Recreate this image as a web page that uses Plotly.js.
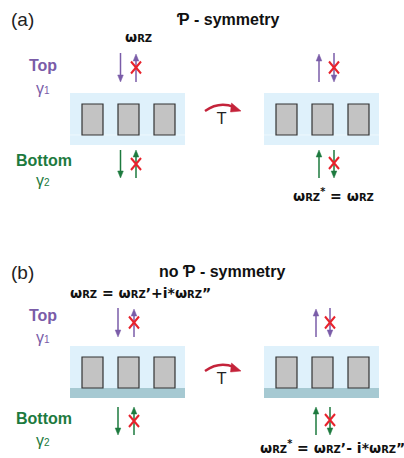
<!DOCTYPE html>
<html>
<head>
<meta charset="utf-8">
<script src="https://cdn.plot.ly/plotly-3.0.1.min.js"></script>
<style>html,body{margin:0;padding:0;background:#fff;}#chart{width:404px;height:458px;}</style>
</head>
<body>
<div id="chart"></div>
<script>
// ---- content ----
var panelLabels = ['(a)', '(b)'];
var panelTitles = ['\u01A4 - symmetry', 'no \u01A4 - symmetry'];
var sideLabels = ['Top', 'Bottom'];
var rateSymbol = '\u03B3';
var rateIndex = ['1', '2'];
var operatorLabel = 'T';
var W = '\u03C9<span style="font-size:10px">RZ</span>';
var eqBefore = [W, W + ' = ' + W + '\u2019+i*' + W + '\u201D'];
var eqAfter = [W + '<sup>*</sup> = ' + W, W + '<sup>*</sup> = ' + W + '\u2019- i*' + W + '\u201D'];
var hasSubstrate = [false, true];
var pillarsPerCell = [1, 2, 3];

// ---- styles ----
var PURPLE = '#7a5ca8', GREEN = '#1d7a3e', RED = '#e8222c', DARK = '#222222';
var BLUE = '#dff1fb', GRAY = '#c3c3c3', STRIP = '#a6c9d2', CURVE = '#c4233a';

var shapes = [], ann = [];
function txt(x, y, t, size, color, bold, fam) {
  ann.push({x: x, y: y, xref: 'x', yref: 'y', text: t, showarrow: false,
    font: {size: size, color: color, weight: bold ? 'bold' : 'normal', family: fam || 'Liberation Sans, Arial, sans-serif'},
    xanchor: 'center', yanchor: 'middle'});
}
function arrow(x, y0, y1, color) {
  var dir = y1 > y0 ? 1 : -1;
  var hb = y1 - dir * 7;
  shapes.push({type: 'line', x0: x, x1: x, y0: y0, y1: hb + dir * 1, line: {color: color, width: 1.5}});
  shapes.push({type: 'path', path: 'M ' + (x - 2.8) + ',' + hb + ' L ' + x + ',' + y1 + ' L ' + (x + 2.8) + ',' + hb + ' Z',
    fillcolor: color, line: {color: color, width: 0.5}});
}
function cross(x, y) {
  shapes.push({type: 'line', x0: x - 5, x1: x + 5, y0: y - 6, y1: y + 6, line: {color: RED, width: 2}});
  shapes.push({type: 'line', x0: x - 5, x1: x + 5, y0: y + 6, y1: y - 6, line: {color: RED, width: 2}});
}
function cell(x0, top, sub) {
  var bot = top + 52;
  shapes.push({type: 'rect', x0: x0, x1: x0 + 115, y0: top, y1: bot, fillcolor: BLUE, line: {width: 0}, layer: 'below'});
  var pb = bot - 10;
  if (sub) {
    shapes.push({type: 'rect', x0: x0, x1: x0 + 115, y0: bot - 10, y1: bot, fillcolor: STRIP, line: {width: 0}});
  } else {
    shapes.push({type: 'line', x0: x0, x1: x0 + 115, y0: bot - 10, y1: bot - 10, line: {color: '#eef8fd', width: 1}});
  }
  pillarsPerCell.forEach(function (k, i) {
    var px = x0 + 12 + i * 36;
    shapes.push({type: 'rect', x0: px, x1: px + 21, y0: pb - 31, y1: pb, fillcolor: GRAY, line: {color: '#333', width: 1.2}});
  });
}

for (var p = 0; p < 2; p++) {
  var dy = p * 253;
  txt(22, 19 + dy, panelLabels[p], 19, DARK, false);
  txt(p === 0 ? 228 : 222, 19 + dy - (p ? 1 : 0), panelTitles[p], 16, '#111', true);
  txt(43, 65 + dy - (p ? 3 : 0), sideLabels[0], 16, PURPLE, true);
  txt(43, 88 + dy - (p ? 4 : 0), rateSymbol + '<span style="font-size:10px">' + rateIndex[0] + '</span>', 16, PURPLE, false);
  txt(44, 160 + dy + (p ? 5 : 0), sideLabels[1], 16, GREEN, true);
  txt(43, 180 + dy + (p ? 7 : 0), rateSymbol + '<span style="font-size:10px">' + rateIndex[1] + '</span>', 16, GREEN, false);
  txt(p === 0 ? 138 : 140, p === 0 ? 37 : 293, eqBefore[p], 14, '#111', true, 'DejaVu Sans, sans-serif');
  txt(p === 0 ? 333 : 332, p === 0 ? 195 : 447, eqAfter[p], 14, '#111', true, 'DejaVu Sans, sans-serif');

  cell(70, 93 + dy, hasSubstrate[p]);
  cell(264, 93 + dy, hasSubstrate[p]);

  var lx = p ? 118 : 120.5, lx2 = p ? 134 : 136;
  var rx = p ? 316 : 319, rx2 = p ? 330 : 334;
  var t0 = p ? 308 : 53, t1 = p ? 337 : 82;
  var b0 = p ? 407 : 150, b1 = p ? 435 : 178;
  arrow(lx, t0, t1, PURPLE); arrow(lx2, t1, t0 + 1, PURPLE); cross(lx2, (t0 + t1) / 2);
  arrow(lx, b0, b1, GREEN); arrow(lx2, b1, b0, GREEN); cross(lx2, (b0 + b1) / 2);
  arrow(rx, t1, t0 + 1, PURPLE); arrow(rx2, t0, t1, PURPLE); cross(rx2, (t0 + t1) / 2);
  arrow(rx, b1, b0, GREEN); arrow(rx2, b0, b1, GREEN); cross(rx2, (b0 + b1) / 2 - 1);

  var cy = p ? 260 : 0;
  shapes.push({type: 'path', path: 'M 205,' + (111 + cy) + ' Q 219,' + (101 + cy) + ' 234,' + (107 + cy),
    line: {color: CURVE, width: 2.4}});
  shapes.push({type: 'path', path: 'M 231.5,' + (103 + cy) + ' L 241,' + (111 + cy) + ' L 230.5,' + (112 + cy) + ' Z',
    fillcolor: CURVE, line: {color: CURVE, width: 0.5}});
  txt(221, 119 + cy, operatorLabel, 15, DARK, false, 'DejaVu Sans, sans-serif');
}

var layout = {
  width: 404, height: 458, margin: {l: 0, r: 0, t: 0, b: 0},
  paper_bgcolor: '#fff', plot_bgcolor: '#fff', showlegend: false,
  xaxis: {range: [0, 404], visible: false, fixedrange: true},
  yaxis: {range: [458, 0], visible: false, fixedrange: true},
  shapes: shapes, annotations: ann
};
Plotly.newPlot('chart', [{x: [], y: [], type: 'scatter', mode: 'markers', hoverinfo: 'skip'}], layout, {staticPlot: true, displayModeBar: false});
</script>
</body>
</html>
